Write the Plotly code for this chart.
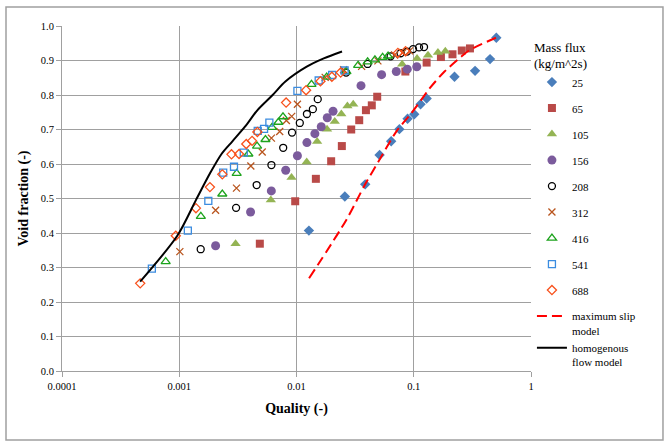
import plotly.graph_objects as go

# Measured void fraction vs. quality, grouped by mass flux (kg/m^2s)
q_25 = [0.01276, 0.02584, 0.03855, 0.05114, 0.06418, 0.07539, 0.08857, 0.1010, 0.1143, 0.1288, 0.2226, 0.3334, 0.4474, 0.506]
a_25 = [0.407, 0.506, 0.541, 0.626, 0.666, 0.701, 0.731, 0.744, 0.773, 0.790, 0.853, 0.870, 0.904, 0.966]

q_65 = [0.004867, 0.00975, 0.01463, 0.01975, 0.02436, 0.02929, 0.03427, 0.0391, 0.04387, 0.04879, 0.08481, 0.1288, 0.1705, 0.214, 0.2568, 0.3016]
a_65 = [0.369, 0.492, 0.557, 0.608, 0.652, 0.700, 0.727, 0.756, 0.770, 0.795, 0.868, 0.894, 0.910, 0.918, 0.929, 0.935]

q_105 = [0.003023, 0.00604, 0.00907, 0.01222, 0.0150, 0.01822, 0.0212, 0.02413, 0.02719, 0.03047, 0.07965, 0.1067, 0.1323, 0.1608, 0.1859]
a_105 = [0.369, 0.496, 0.561, 0.606, 0.665, 0.701, 0.723, 0.745, 0.768, 0.773, 0.889, 0.906, 0.915, 0.923, 0.927]

q_156 = [0.002042, 0.004056, 0.0061, 0.00809, 0.01018, 0.01227, 0.01435, 0.01626, 0.0183, 0.0205, 0.03549, 0.05318, 0.071, 0.08803, 0.1061]
a_156 = [0.363, 0.461, 0.522, 0.582, 0.624, 0.662, 0.688, 0.708, 0.734, 0.753, 0.827, 0.859, 0.868, 0.875, 0.882]

q_208 = [0.001524, 0.003053, 0.004571, 0.00611, 0.0077, 0.00916, 0.01067, 0.01227, 0.01379, 0.01518, 0.0265, 0.04042, 0.06343, 0.07719, 0.08768, 0.09863, 0.111, 0.1224]
a_208 = [0.353, 0.473, 0.539, 0.597, 0.647, 0.691, 0.719, 0.745, 0.759, 0.788, 0.865, 0.890, 0.912, 0.921, 0.926, 0.933, 0.938, 0.939]

q_312 = [0.001012, 0.002042, 0.003077, 0.00408, 0.0051, 0.00611, 0.00719, 0.0082, 0.0091, 0.01018, 0.01756, 0.02523, 0.03592, 0.04945, 0.06863, 0.08076, 0.0921]
a_312 = [0.346, 0.466, 0.530, 0.594, 0.635, 0.675, 0.694, 0.726, 0.738, 0.773, 0.851, 0.873, 0.883, 0.899, 0.916, 0.923, 0.928]

q_416 = [0.000766, 0.001528, 0.002329, 0.003089, 0.003886, 0.00461, 0.005435, 0.006184, 0.0070, 0.00767, 0.01342, 0.01808, 0.02666, 0.03354, 0.04042, 0.04665, 0.05424, 0.06042]
a_416 = [0.317, 0.448, 0.513, 0.573, 0.629, 0.652, 0.671, 0.706, 0.721, 0.737, 0.831, 0.852, 0.868, 0.886, 0.896, 0.902, 0.909, 0.913]

q_541 = [0.000584, 0.001184, 0.00177, 0.002371, 0.00293, 0.00355, 0.00467, 0.005288, 0.00587, 0.01018, 0.01546, 0.02014, 0.02574]
a_541 = [0.297, 0.407, 0.493, 0.575, 0.592, 0.633, 0.696, 0.702, 0.720, 0.812, 0.842, 0.858, 0.871]

q_688 = [0.0004645, 0.000934, 0.001388, 0.001826, 0.002329, 0.002789, 0.003236, 0.003729, 0.004178, 0.004636, 0.008153, 0.01207, 0.01601, 0.02002, 0.02379, 0.07321, 0.08515]
a_688 = [0.254, 0.392, 0.472, 0.533, 0.570, 0.628, 0.629, 0.658, 0.667, 0.693, 0.778, 0.814, 0.840, 0.853, 0.865, 0.922, 0.927]

# Model curves
q_slip = [0.0128, 0.0266, 0.0385, 0.0528, 0.071, 0.0952, 0.1159, 0.1364, 0.183, 0.254, 0.299, 0.511]
a_slip = [0.269, 0.438, 0.541, 0.621, 0.694, 0.747, 0.786, 0.819, 0.868, 0.911, 0.930, 0.967]

q_homo = [0.000464, 0.000962, 0.00139, 0.00183, 0.002293, 0.002828, 0.003635, 0.00467, 0.006256, 0.00804, 0.01222, 0.01708, 0.02445]
a_homo = [0.259, 0.392, 0.496, 0.573, 0.629, 0.665, 0.708, 0.757, 0.800, 0.839, 0.882, 0.906, 0.926]

x_tick_vals = [0.0001, 0.001, 0.01, 0.1, 1]
x_tick_text = ["0.0001", "0.001", "0.01", "0.1", "1"]

SERIF = "Liberation Serif, Times New Roman, serif"
GRID = "#A0A0A0"

series = [
    ("25", q_25, a_25, dict(symbol="diamond", size=8, color="#4A7EBB")),
    ("65", q_65, a_65, dict(symbol="square", size=8, color="#B94A48")),
    ("105", q_105, a_105, dict(symbol="triangle-up", size=9, color="#94B454")),
    ("156", q_156, a_156, dict(symbol="circle", size=9, color="#7B5B9C")),
    ("208", q_208, a_208, dict(symbol="circle-open", size=7, color="#000000", line=dict(width=1.3))),
    ("312", q_312, a_312, dict(symbol="x-thin-open", size=7, color="#B9551E", line=dict(width=1.3, color="#B9551E"))),
    ("416", q_416, a_416, dict(symbol="triangle-up-open", size=8, color="#1DA31D", line=dict(width=1.3))),
    ("541", q_541, a_541, dict(symbol="square-open", size=7, color="#3B8CE0", line=dict(width=1.3))),
    ("688", q_688, a_688, dict(symbol="diamond-open", size=7, color="#F8511C", line=dict(width=1.3))),
]

fig = go.Figure()
for name, xs, ys, mk in series:
    fig.add_trace(go.Scatter(x=xs, y=ys, mode="markers", name=name,
                             legendgroup=name, marker=mk))

fig.add_trace(go.Scatter(x=q_slip, y=a_slip, mode="lines", name="maximum slip<br>model",
                         legendgroup="models",
                         line=dict(color="#FF0000", width=2, dash="10px,5px", shape="spline", smoothing=0.8)))
fig.add_trace(go.Scatter(x=q_homo, y=a_homo, mode="lines", name="homogenous<br>flow model",
                         legendgroup="models",
                         line=dict(color="#000000", width=2, shape="spline", smoothing=0.8)))

# outer chart frame
fig.add_shape(type="rect", xref="paper", yref="paper",
              x0=-0.1194, x1=1.2814, y0=-0.2, y1=1.0551,
              line=dict(color="#A0A0A0", width=1.5), fillcolor="rgba(0,0,0,0)", layer="below")

fig.update_layout(
    width=669, height=443,
    margin=dict(l=62, r=138, t=26, b=72),
    paper_bgcolor="white", plot_bgcolor="white",
    font=dict(family=SERIF, size=11, color="#000000"),
    showlegend=True,
    legend=dict(
        x=1.002, xanchor="left", y=0.975, yanchor="top",
        title=dict(text="Mass flux<br>(kg/m^2s)", font=dict(size=13, family=SERIF)),
        font=dict(size=11, family=SERIF),
        tracegroupgap=7, valign="top",
        bgcolor="rgba(0,0,0,0)",
    ),
    xaxis=dict(
        type="log", range=[-4, 0],
        tickvals=x_tick_vals, ticktext=x_tick_text,
        showgrid=True, gridcolor=GRID, gridwidth=1,
        showline=True, linecolor=GRID, linewidth=1,
        ticks="outside", ticklen=5, tickcolor=GRID,
        tickfont=dict(size=10.5, family=SERIF),
        title=dict(text="<b>Quality (-)</b>", font=dict(size=14, family=SERIF), standoff=12),
        zeroline=False,
    ),
    yaxis=dict(
        range=[0, 1], dtick=0.1, tickformat=".1f",
        showgrid=True, gridcolor=GRID, gridwidth=1,
        showline=True, linecolor=GRID, linewidth=1,
        ticks="outside", ticklen=5, tickcolor=GRID,
        tickfont=dict(size=10.5, family=SERIF),
        title=dict(text="<b>Void fraction (-)</b>", font=dict(size=14, family=SERIF), standoff=8),
        zeroline=False,
    ),
)

fig.write_html("out.html")
